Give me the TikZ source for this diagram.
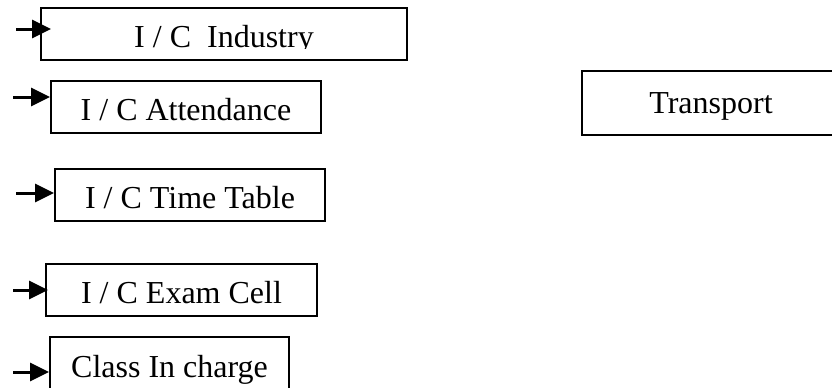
\documentclass[tikz,border=0pt]{standalone}
\usepackage{fontspec}
\setmainfont{Liberation Serif}
\usetikzlibrary{arrows.meta}

\begin{document}
\begin{tikzpicture}[
    x=0.5pt, y=-0.5pt,
    every node/.style={font=\fontsize{16}{19}\selectfont, align=center},
    duty/.style={rectangle, draw=black, line width=1pt, minimum height=26pt, text height=13.5pt, text depth=0pt, inner sep=0pt},
    arr/.style={-{Triangle[length=9.5pt,width=9pt]}, line width=1.5pt, black}
]
\clip (0,0) rectangle (832,387);

% I/C Industry (text cut at its baseline)
\node[duty, minimum width=183pt] (ind) at (224,34) {};
\begin{scope}
\clip (ind.north west) rectangle (ind.east |- 0,48);
\node[anchor=base] (indtext) at (224,47) {I / C\ \ Industry};
\end{scope}
\coordinate (in1) at (16,29);
\draw[arr] (in1) -- ([xshift=5.5pt]in1 -| ind.west);

% I/C Attendance
\node[duty, minimum width=135pt] (att) at (186,106.5) {I / C Attendance};
\coordinate (in2) at (13,97);
\draw[arr] (in2) -- (in2 -| att.west);

% I/C Time Table
\node[duty, minimum width=135pt] (tt) at (190,194.5) {I / C Time Table};
\coordinate (in3) at (16,193);
\draw[arr] (in3) -- (in3 -| tt.west);

% I/C Exam Cell
\node[duty, minimum width=135.5pt] (exam) at (181.5,290) {I / C Exam Cell};
\coordinate (in4) at (13,290);
\draw[arr] (in4) -- ([xshift=1.5pt]in4 -| exam.west);

% Class In charge
\node[duty, minimum width=119.5pt, minimum height=27pt] (cls) at (169.5,364) {Class In charge};
\coordinate (in5) at (13,372);
\draw[arr] (in5) -- (in5 -| cls.west);

% Transport (right)
\node[duty, minimum width=129pt, minimum height=32pt, text height=10.6pt] (trans) at (711,103) {Transport};
\end{tikzpicture}
\end{document}
